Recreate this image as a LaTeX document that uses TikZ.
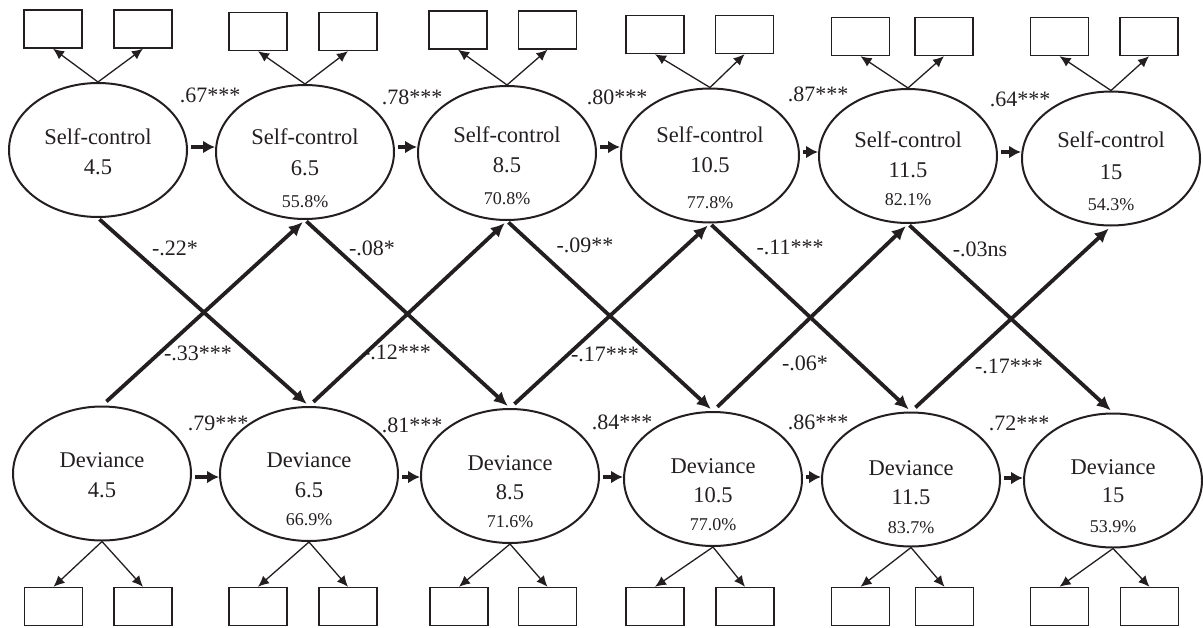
\documentclass[tikz,border=0pt]{standalone}
\usepackage{fontspec}
\setmainfont{Liberation Serif}
\usetikzlibrary{arrows.meta,shapes.geometric}
\definecolor{ink}{HTML}{231F20}
\begin{document}
\begin{tikzpicture}[x=1pt,y=-1pt,
  latent/.style={draw=ink, line width=2pt, ellipse, minimum width=178pt, minimum height=134pt, inner sep=0pt},
  indicator/.style={draw=ink, line width=1.4pt, rectangle, minimum width=58pt, minimum height=38pt, inner sep=0pt},
  vname/.style={font=\fontsize{22.5}{26}\selectfont, text=ink, inner sep=0pt},
  vpct/.style={font=\fontsize{18}{21}\selectfont, text=ink, inner sep=0pt},
  coef/.style={font=\fontsize{22}{26}\selectfont, text=ink, inner sep=0pt},
  loadarrow/.style={draw=ink, line width=1.3pt, -{Latex[length=11pt,width=10pt]}},
  stabarrow/.style={draw=ink, line width=4.5pt, -{Latex[length=12pt,width=13pt]}, shorten <=3pt},
  downarrow/.style={draw=ink, line width=3.8pt, -{Latex[length=14pt,width=13pt]}, shorten <=2pt, shorten >=3pt},
  uparrow/.style={draw=ink, line width=3.8pt, -{Latex[length=14pt,width=13pt]}, shorten <=6pt, shorten >=3pt},
]
\useasboundingbox (0,0) rectangle (1203,627);

% Self-control latent variables (top row)
\foreach \i/\cx/\cy/\ny/\vy/\val/\py/\pc/\rl/\rr/\ry in {
  1/98/150/137/167/4.5/0//53/143/29,
  2/305/152/137/168/6.5/202/55.8\%/258/348/31.5,
  3/507/153/135/165/8.5/199/70.8\%/458/547.5/30,
  4/710/155.5/135/165/10.5/203/77.8\%/655/744.5/34.5,
  5/908/156/140/170/11.5/200/82.1\%/860.5/944/36.5,
  6/1111/158.5/140/172/15/205/54.3\%/1059.5/1149/36.5}{
  \node[latent] (sc\i) at (\cx,\cy) {};
  \node[vname] (scn\i) at (\cx,\ny) {Self-control};
  \node[vname] (scv\i) at (\cx,\vy) {\val};
  \node[vpct] (scp\i) at (\cx,\py) {\pc};
  \node[indicator] (sca\i) at (\rl,\ry) {};
  \node[indicator] (scb\i) at (\rr,\ry) {};
  \draw[loadarrow] (sc\i.north) -- (sca\i.south);
  \draw[loadarrow] (sc\i.north) -- (scb\i.south);
}

% Deviance latent variables (bottom row)
\foreach \i/\cx/\cy/\ny/\vy/\val/\py/\pc/\rl/\rr in {
  1/102/473.5/460/490/4.5/0//53.5/143,
  2/309/474/460/490/6.5/520/66.9\%/258/348,
  3/510/476/463/492/8.5/522/71.6\%/459/547.5,
  4/713/479/466/495/10.5/525/77.0\%/655/745,
  5/911/479.5/468/497/11.5/528/83.7\%/860.5/944.5,
  6/1113/480.5/467/495/15/527/53.9\%/1059.5/1149.5}{
  \node[latent] (dv\i) at (\cx,\cy) {};
  \node[vname] (dvn\i) at (\cx,\ny) {Deviance};
  \node[vname] (dvv\i) at (\cx,\vy) {\val};
  \node[vpct] (dvp\i) at (\cx,\py) {\pc};
  \node[indicator] (dva\i) at (\rl,606.5) {};
  \node[indicator] (dvb\i) at (\rr,606.5) {};
  \draw[loadarrow] (dv\i.south) -- (dva\i.north);
  \draw[loadarrow] (dv\i.south) -- (dvb\i.north);
}

% Stability paths
\foreach \a/\b/\y in {1/2/147, 2/3/147, 3/4/147, 4/5/152, 5/6/152}{
  \draw[stabarrow] (sc\a.east |- 0,\y) -- (sc\b.west |- 0,\y);
}
\foreach \a/\b/\y in {1/2/477, 2/3/477, 3/4/477, 4/5/477, 5/6/478}{
  \draw[stabarrow] (dv\a.east |- 0,\y) -- (dv\b.west |- 0,\y);
}

% Cross-lagged paths
\foreach \a/\b in {1/2, 2/3, 3/4, 4/5, 5/6}{
  \draw[downarrow] (sc\a.south) -- (dv\b.north);
  \draw[uparrow] (dv\a.north) -- (sc\b.south);
}

% Stability coefficients
\node[coef] (k1) at (210,95) {.67***};
\node[coef] (k2) at (412,97) {.78***};
\node[coef] (k3) at (617,97) {.80***};
\node[coef] (k4) at (818,94) {.87***};
\node[coef] (k5) at (1020,99) {.64***};
\node[coef] (m1) at (218,423) {.79***};
\node[coef] (m2) at (412,425) {.81***};
\node[coef] (m3) at (622,422) {.84***};
\node[coef] (m4) at (818,422) {.86***};
\node[coef] (m5) at (1019,423) {.72***};

% Cross-lagged coefficients
\node[coef] (x1) at (175,248) {-.22*};
\node[coef] (y1) at (198,353) {-.33***};
\node[coef] (x2) at (372,248) {-.08*};
\node[coef] (y2) at (397,352) {-.12***};
\node[coef] (x3) at (585,245) {-.09**};
\node[coef] (y3) at (605,354) {-.17***};
\node[coef] (x4) at (790,247) {-.11***};
\node[coef] (y4) at (805,363) {-.06*};
\node[coef] (x5) at (980,249) {-.03ns};
\node[coef] (y5) at (1009,366) {-.17***};
\end{tikzpicture}
\end{document}
